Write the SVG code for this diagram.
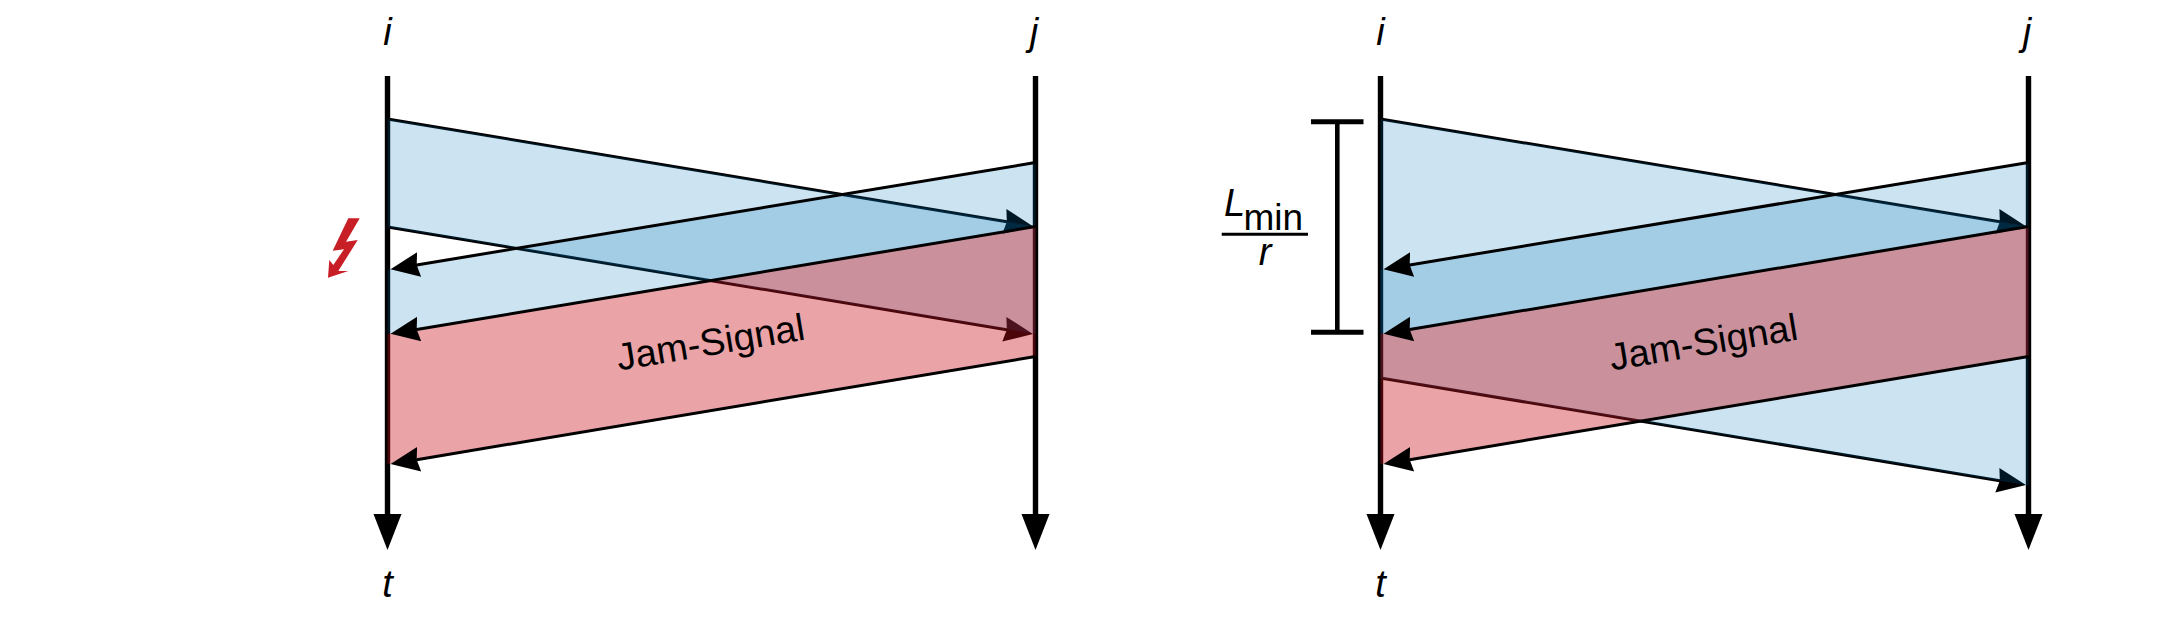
<svg xmlns="http://www.w3.org/2000/svg" width="2179" height="637" viewBox="0 0 2179 637">
<style>
.axis{fill:none;stroke:#000;stroke-width:5.4}
.wave{fill:none;stroke:#000;stroke-width:3}
.blue{fill:#0073B9;fill-opacity:.2;stroke:none}
.red{fill:#C80D15;fill-opacity:.38;stroke:none}
.head{fill:#000;stroke:none}
text{font-family:"Liberation Sans",Arial,sans-serif;font-size:38px;fill:#000}
.var{font-style:italic;text-anchor:middle}
</style>
<defs>
<marker id="wh" markerUnits="userSpaceOnUse" markerWidth="40" markerHeight="30" refX="4" refY="15" orient="auto" viewBox="0 0 40 30"><path class="head" d="M0 2.5 L29 15 L0 27.5 L2.5 15Z"/></marker>
<marker id="ah" markerUnits="userSpaceOnUse" markerWidth="30" markerHeight="40" refX="15" refY="2" orient="0" viewBox="0 0 30 40"><path class="head" d="M1 2 L29 2 L15 38Z"/></marker>
<g id="axes">
<path class="axis" d="M387.5 76V514" marker-end="url(#ah)"/>
<path class="axis" d="M1035.5 76V514" marker-end="url(#ah)"/>
</g>
</defs>
<g id="connectors-left-under">
<use href="#axes"/>
<path class="wave" d="M387.5 119L1008.3 222.1" marker-end="url(#wh)"/>
<path class="wave" d="M387.5 227L1008.3 329.9" marker-end="url(#wh)"/>
</g>
<g id="bands-left">
<polygon class="blue" points="387.5,119 1035.5,226.5 1035.5,334 387.5,227"/>
<polygon class="blue" points="1035.5,162.5 1035.5,226.5 387.5,334 387.5,269.5"/>
<polygon class="red" points="1035.5,226.5 1035.5,356.5 387.5,464 387.5,334"/>
</g>
<g id="connectors-left-over">
<path class="wave" d="M1035.5 162.5L415.2 265.2" marker-end="url(#wh)"/>
<path class="wave" d="M1035.5 226.5L415.2 329.7" marker-end="url(#wh)"/>
<path class="wave" d="M1035.5 356.5L415.2 459.9" marker-end="url(#wh)"/>
</g>
<g id="connectors-right-under" transform="translate(993 0)">
<use href="#axes"/>
<path class="wave" d="M387.5 119L1008.3 222.1" marker-end="url(#wh)"/>
<path class="wave" d="M387.5 378L1008.3 480.9" marker-end="url(#wh)"/>
</g>
<g id="bands-right" transform="translate(993 0)">
<polygon class="blue" points="387.5,119 1035.5,226.5 1035.5,485.5 387.5,378"/>
<polygon class="blue" points="1035.5,162.5 1035.5,226.5 387.5,334 387.5,269.5"/>
<polygon class="red" points="1035.5,226.5 1035.5,356.5 387.5,464 387.5,334"/>
</g>
<g id="connectors-right-over" transform="translate(993 0)">
<path class="wave" d="M1035.5 162.5L415.2 265.2" marker-end="url(#wh)"/>
<path class="wave" d="M1035.5 226.5L415.2 329.7" marker-end="url(#wh)"/>
<path class="wave" d="M1035.5 356.5L415.2 459.9" marker-end="url(#wh)"/>
</g>
<g id="collision"><polygon fill="#C81E25" points="348.3,218.3 359.7,218.3 346,241.7 357.7,240 338.3,271 348.3,271 328,277.7 329.3,260 333.3,265 344,249.3 332.7,250.7"/></g>
<g id="bracket">
<path fill="none" stroke="#000" stroke-width="5" d="M1311 121.7H1363.5M1311 332.3H1363.5"/>
<path fill="none" stroke="#000" stroke-width="4.6" d="M1337.3 121.7V332.3"/>
</g>
<g id="fraction">
<text x="1224" y="215.7" font-style="italic">L</text>
<text x="1243.5" y="230" style="font-size:37px">min</text>
<path fill="none" stroke="#000" stroke-width="3" d="M1221.7 234.3H1308"/>
<text x="1265" y="265" class="var">r</text>
</g>
<g id="labels">
<text x="387.5" y="45" class="var">i</text>
<text x="1034" y="45" class="var">j</text>
<text x="387.5" y="597" class="var">t</text>
<text x="1380.5" y="45" class="var">i</text>
<text x="2027" y="45" class="var">j</text>
<text x="1380.5" y="597" class="var">t</text>
<text transform="translate(712.5 355) rotate(-9.4)" text-anchor="middle">Jam-Signal</text>
<text transform="translate(1705.5 355) rotate(-9.4)" text-anchor="middle">Jam-Signal</text>
</g>
</svg>
